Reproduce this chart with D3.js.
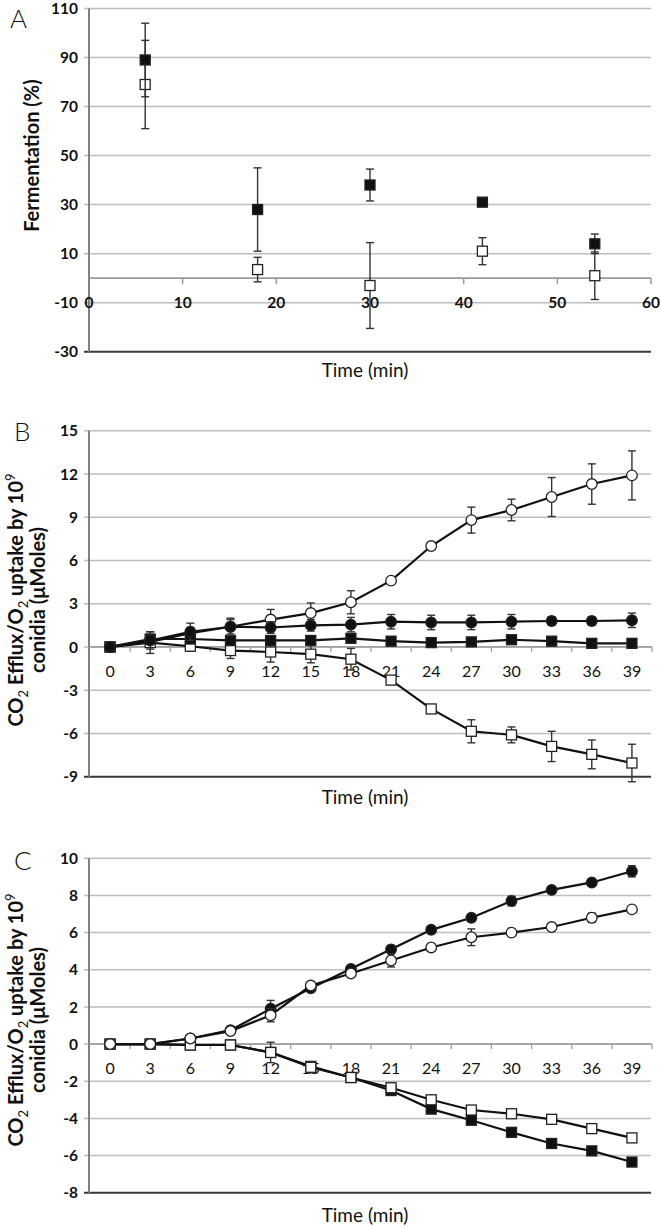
<!DOCTYPE html>
<html lang="en">
<head>
<meta charset="UTF-8">
<title>Fermentation and CO2/O2 panels</title>
<script src="https://d3js.org/d3.v7.min.js"></script>
<style>
  body { margin: 0; background: #fff; }
  svg { display: block; font-family: Lato, "Open Sans", sans-serif; }
  .grid { stroke: #bdbdbd; stroke-width: 1.5; }
  .tick-label { font-size: 15.5px; font-weight: bold; fill: #111; }
  .cat-label { font-size: 16px; fill: #111; }
  .axis-title { font-size: 19px; fill: #111; }
  .y-title { font-size: 20px; font-weight: bold; fill: #111; }
  .panel-letter { font-size: 26px; font-weight: 300; fill: #111; }
</style>
</head>
<body>
<svg id="chart" width="661" height="1227"></svg>
<script>
// ---- Panel A data ----
const timeA = [6, 18, 30, 42, 54];
const fermFilled = [89, 28, 38, 31, 14];
const fermFilledErr = [15, 17, 6.5, 1, 4];
const fermOpen = [79, 3.5, -3, 11, 1];
const fermOpenErr = [18, 5, 17.5, 5.5, 9.7];
const ticksA = [-30, -10, 10, 30, 50, 70, 90, 110];
const xTicksA = [0, 10, 20, 30, 40, 50, 60];

// ---- Panels B and C: shared categories ----
const minutes = [0, 3, 6, 9, 12, 15, 18, 21, 24, 27, 30, 33, 36, 39];

// ---- Panel B data ----
const bOpenCircle = [0, 0.35, 0.95, 1.4, 1.9, 2.35, 3.1, 4.6, 7.0, 8.8, 9.5, 10.4, 11.3, 11.9];
const bOpenCircleErr = [0, 0.3, 0.4, 0.5, 0.7, 0.7, 0.8, 0.2, 0.2, 0.9, 0.75, 1.35, 1.4, 1.7];
const bFilledCircle = [0, 0.45, 1.05, 1.4, 1.35, 1.5, 1.55, 1.75, 1.7, 1.7, 1.75, 1.8, 1.8, 1.85];
const bFilledCircleErr = [0, 0.6, 0.6, 0.6, 0.4, 0.4, 0.5, 0.5, 0.5, 0.5, 0.5, 0.3, 0.3, 0.5];
const bFilledSquare = [0, 0.55, 0.55, 0.45, 0.45, 0.45, 0.6, 0.4, 0.3, 0.35, 0.5, 0.4, 0.25, 0.25];
const bFilledSquareErr = [0, 0.2, 0.2, 0.2, 0.2, 0.2, 0.2, 0.2, 0.2, 0.2, 0.2, 0.2, 0.2, 0.2];
const bOpenSquare = [0, 0.3, 0.05, -0.25, -0.35, -0.5, -0.85, -2.3, -4.3, -5.85, -6.1, -6.9, -7.45, -8.05];
const bOpenSquareErr = [0, 0.75, 0.35, 0.55, 0.7, 0.6, 0.75, 0.2, 0.2, 0.8, 0.55, 1.05, 1.0, 1.3];
const ticksB = [-9, -6, -3, 0, 3, 6, 9, 12, 15];

// ---- Panel C data ----
const cFilledCircle = [0, 0, 0.3, 0.75, 1.9, 3.0, 4.05, 5.1, 6.15, 6.8, 7.7, 8.3, 8.7, 9.3];
const cFilledCircleErr = [0, 0, 0.1, 0.1, 0.45, 0.15, 0.15, 0.15, 0.15, 0.15, 0.25, 0.15, 0.15, 0.3];
const cOpenCircle = [0, 0, 0.3, 0.7, 1.55, 3.15, 3.8, 4.5, 5.2, 5.75, 6.0, 6.3, 6.8, 7.25];
const cOpenCircleErr = [0, 0, 0.1, 0.1, 0.35, 0.15, 0.15, 0.35, 0.15, 0.45, 0.15, 0.15, 0.25, 0.15];
const cFilledSquare = [0, 0, -0.05, -0.05, -0.45, -1.2, -1.8, -2.5, -3.5, -4.1, -4.75, -5.35, -5.75, -6.35];
const cFilledSquareErr = [0, 0, 0.05, 0.05, 0.15, 0.15, 0.15, 0.15, 0.15, 0.15, 0.15, 0.15, 0.15, 0.15];
const cOpenSquare = [0, 0, -0.05, -0.05, -0.45, -1.25, -1.8, -2.35, -3.0, -3.55, -3.75, -4.05, -4.55, -5.05];
const cOpenSquareErr = [0, 0, 0.05, 0.05, 0.55, 0.3, 0.15, 0.15, 0.15, 0.15, 0.15, 0.15, 0.15, 0.15];
const ticksC = [-8, -6, -4, -2, 0, 2, 4, 6, 8, 10];

const svg = d3.select("#chart");
const left = 89, right = 651;

// draws gridlines, y axis line and y tick labels
function drawYFrame(y, ticks, yMin) {
  const g = svg.append("g");
  g.selectAll(".grid").data(ticks.filter(t => t !== yMin)).enter().append("line")
    .attr("class", "grid")
    .attr("x1", left - 5).attr("x2", right)
    .attr("y1", d => y(d)).attr("y2", d => y(d));
  // bottom border line (darker)
  g.append("line")
    .attr("x1", left - 5).attr("x2", right)
    .attr("y1", y(yMin)).attr("y2", y(yMin))
    .attr("stroke", "#3a3a3a").attr("stroke-width", 2);
  g.append("line")
    .attr("x1", left).attr("x2", left)
    .attr("y1", y(d3.max(ticks))).attr("y2", y(yMin))
    .attr("stroke", "#808080").attr("stroke-width", 2);
  g.selectAll(".tick-label").data(ticks).enter().append("text")
    .attr("class", "tick-label")
    .attr("x", left - 11).attr("y", d => y(d))
    .attr("dy", "0.36em").attr("text-anchor", "end")
    .text(d => d);
  return g;
}

function marker(g, cx, cy, shape, filled) {
  if (shape === "square") {
    g.append("rect")
      .attr("x", cx - 5).attr("y", cy - 5)
      .attr("width", 10).attr("height", 10)
      .attr("fill", filled ? "#111" : "#fff")
      .attr("stroke", "#222").attr("stroke-width", 1.3);
  } else {
    g.append("circle")
      .attr("cx", cx).attr("cy", cy).attr("r", 5.3)
      .attr("fill", filled ? "#111" : "#fff")
      .attr("stroke", "#222").attr("stroke-width", 1.3);
  }
}

function errorBars(g, xs, vals, errs, y) {
  vals.forEach((v, i) => {
    const e = errs[i];
    if (!e) return;
    const x = xs[i];
    g.append("line").attr("x1", x).attr("x2", x)
      .attr("y1", y(v + e)).attr("y2", y(v - e))
      .attr("stroke", "#333").attr("stroke-width", 1.4);
    [v + e, v - e].forEach(w => {
      g.append("line").attr("x1", x - 4).attr("x2", x + 4)
        .attr("y1", y(w)).attr("y2", y(w))
        .attr("stroke", "#333").attr("stroke-width", 1.4);
    });
  });
}

function series(g, xs, vals, errs, y, shape, filled, withLine) {
  const sg = g.append("g");
  if (withLine) {
    sg.append("path")
      .attr("d", d3.line().x((d, i) => xs[i]).y(d => y(d))(vals))
      .attr("fill", "none").attr("stroke", "#111").attr("stroke-width", 2.2);
  }
  errorBars(sg, xs, vals, errs, y);
  vals.forEach((v, i) => marker(sg, xs[i], y(v), shape, filled));
}

function yTitleTwoLines(cx, cy) {
  const t = svg.append("text")
    .attr("class", "y-title")
    .attr("transform", `translate(${cx},${cy}) rotate(-90)`)
    .attr("text-anchor", "middle");
  const l1 = t.append("tspan").attr("x", 0).attr("y", 0);
  l1.append("tspan").text("CO");
  l1.append("tspan").attr("font-size", "13px").attr("font-weight", "normal").attr("dy", 5).text("2");
  l1.append("tspan").attr("dy", -5).text(" Efflux/O");
  l1.append("tspan").attr("font-size", "13px").attr("font-weight", "normal").attr("dy", 5).text("2");
  l1.append("tspan").attr("dy", -5).text(" uptake by 10");
  l1.append("tspan").attr("font-size", "13px").attr("font-weight", "normal").attr("dy", -8).text("9");
  t.append("tspan").attr("x", 0).attr("y", 22).text("conidia (\u03bcMoles)");
}

// ================= Panel A =================
const yA = d3.scaleLinear().domain([-30, 110]).range([351.7, 8.5]);
const xA = d3.scaleLinear().domain([0, 60]).range([left, right]);
const gA = drawYFrame(yA, ticksA, -30);
// zero line acts as x axis
gA.append("line").attr("x1", left).attr("x2", right)
  .attr("y1", yA(0)).attr("y2", yA(0))
  .attr("stroke", "#9a9a9a").attr("stroke-width", 1.8);
gA.selectAll(".xtickA").data(xTicksA.slice(1)).enter().append("line")
  .attr("x1", d => xA(d)).attr("x2", d => xA(d))
  .attr("y1", yA(0)).attr("y2", yA(0) + 6)
  .attr("stroke", "#9a9a9a").attr("stroke-width", 1.5);
gA.selectAll(".xlabA").data(xTicksA).enter().append("text")
  .attr("class", "tick-label")
  .attr("x", d => xA(d)).attr("y", yA(0) + 24)
  .attr("dy", "0.36em").attr("text-anchor", "middle")
  .text(d => d);
const xsA = timeA.map(d => xA(d));
series(gA, xsA, fermOpen, fermOpenErr, yA, "square", false, false);
series(gA, xsA, fermFilled, fermFilledErr, yA, "square", true, false);
svg.append("text").attr("class", "y-title")
  .attr("transform", `translate(39,${yA(50)}) rotate(-90)`)
  .attr("text-anchor", "middle").text("Fermentation (%)");
svg.append("text").attr("class", "axis-title")
  .attr("x", 365).attr("y", 377).attr("text-anchor", "middle").text("Time (min)");
svg.append("text").attr("class", "panel-letter")
  .attr("x", 10).attr("y", 28).text("A");

// ================= Panels B and C (category axes) =================
const xCat = d3.scaleBand().domain(minutes).range([left + 1, right + 1]);
const xsCat = minutes.map(d => xCat(d) + xCat.bandwidth() / 2);

function catAxis(g, y) {
  g.append("line").attr("x1", left).attr("x2", right + 1)
    .attr("y1", y(0)).attr("y2", y(0))
    .attr("stroke", "#a0a0a0").attr("stroke-width", 1.8);
  const bounds = minutes.map(d => xCat(d)).concat([xCat(minutes[minutes.length - 1]) + xCat.bandwidth()]);
  g.selectAll(".ctick").data(bounds.slice(1)).enter().append("line")
    .attr("x1", d => d).attr("x2", d => d)
    .attr("y1", y(0)).attr("y2", y(0) + 5)
    .attr("stroke", "#a0a0a0").attr("stroke-width", 1.3);
  g.selectAll(".clab").data(minutes).enter().append("text")
    .attr("class", "cat-label")
    .attr("x", d => xCat(d) + xCat.bandwidth() / 2).attr("y", y(0) + 24)
    .attr("dy", "0.36em").attr("text-anchor", "middle")
    .text(d => d);
}

// ---- Panel B ----
const yB = d3.scaleLinear().domain([-9, 15]).range([776.7, 430.7]);
const gB = drawYFrame(yB, ticksB, -9);
catAxis(gB, yB);
series(gB, xsCat, bOpenCircle, bOpenCircleErr, yB, "circle", false, true);
series(gB, xsCat, bOpenSquare, bOpenSquareErr, yB, "square", false, true);
series(gB, xsCat, bFilledSquare, bFilledSquareErr, yB, "square", true, true);
series(gB, xsCat, bFilledCircle, bFilledCircleErr, yB, "circle", true, true);
yTitleTwoLines(23, 600);
svg.append("text").attr("class", "axis-title")
  .attr("x", 365).attr("y", 804).attr("text-anchor", "middle").text("Time (min)");
svg.append("text").attr("class", "panel-letter")
  .attr("x", 14).attr("y", 441).text("B");

// ---- Panel C ----
const yC = d3.scaleLinear().domain([-8, 10]).range([1192.7, 858.3]);
const gC = drawYFrame(yC, ticksC, -8);
catAxis(gC, yC);
series(gC, xsCat, cFilledSquare, cFilledSquareErr, yC, "square", true, true);
series(gC, xsCat, cFilledCircle, cFilledCircleErr, yC, "circle", true, true);
series(gC, xsCat, cOpenSquare, cOpenSquareErr, yC, "square", false, true);
series(gC, xsCat, cOpenCircle, cOpenCircleErr, yC, "circle", false, true);
yTitleTwoLines(23, 1020);
svg.append("text").attr("class", "axis-title")
  .attr("x", 365).attr("y", 1222).attr("text-anchor", "middle").text("Time (min)");
svg.append("text").attr("class", "panel-letter")
  .attr("x", 14).attr("y", 870).text("C");
</script>
</body>
</html>
